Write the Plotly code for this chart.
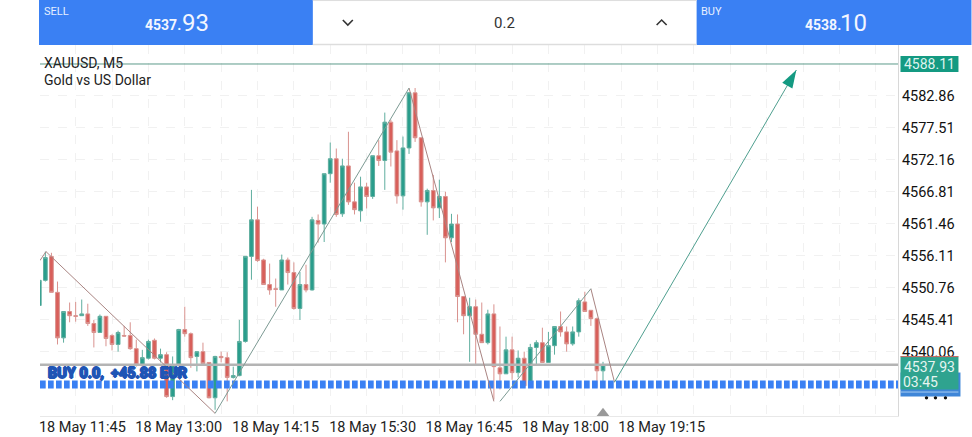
import plotly.graph_objects as go

# Candle values (price) per 5-minute bar
opens = [4547.8,4552.0,4556.0,4550.0,4542.4,4546.8,4546.1,4546.1,4546.4,4544.8,4543.3,4546.0,4542.8,4541.3,4542.8,4542.8,4540.6,4537.8,4539.0,4542.0,4539.0,4539.6,4532.6,4537.9,4543.8,4543.1,4539.3,4540.1,4538.3,4532.4,4539.3,4539.1,4535.8,4536.1,4541.8,4556.0,4562.1,4555.4,4551.3,4550.6,4550.4,4555.4,4553.3,4547.3,4551.3,4550.4,4562.0,4561.4,4569.8,4572.3,4563.1,4571.1,4565.1,4563.6,4567.6,4566.0,4572.8,4572.0,4578.4,4573.6,4566.1,4574.1,4583.3,4575.8,4565.1,4567.0,4564.1,4566.0,4559.1,4561.4,4549.3,4546.1,4547.6,4543.0,4541.6,4546.4,4537.4,4536.4,4540.4,4536.6,4539.0,4534.4,4540.8,4541.6,4538.3,4541.1,4544.3,4543.4,4541.4,4543.4,4548.4,4547.0,4545.6,4536.9]
highs = [4552.0,4556.8,4556.6,4551.8,4546.8,4548.3,4548.4,4548.8,4548.1,4545.4,4546.3,4546.0,4543.0,4543.6,4544.4,4545.0,4542.1,4540.4,4542.1,4542.3,4540.6,4540.0,4539.3,4543.9,4547.6,4543.3,4540.1,4541.6,4538.3,4539.4,4540.1,4540.0,4537.6,4545.4,4556.0,4567.1,4564.3,4555.6,4554.8,4552.3,4556.3,4555.8,4555.0,4553.4,4554.6,4562.6,4563.0,4569.8,4575.0,4574.0,4572.3,4576.8,4568.3,4569.3,4568.3,4572.8,4575.4,4580.0,4578.8,4575.4,4576.0,4583.4,4584.1,4575.8,4567.3,4569.6,4568.8,4566.8,4563.1,4563.0,4549.4,4549.1,4548.8,4548.3,4547.1,4548.0,4544.3,4542.6,4542.6,4540.3,4540.1,4541.4,4542.0,4544.1,4543.4,4544.3,4546.8,4544.3,4544.3,4549.0,4550.1,4547.0,4545.8,4538.4]
lows = [4547.8,4551.8,4550.0,4541.3,4541.6,4545.0,4545.1,4546.1,4544.4,4540.8,4543.3,4541.0,4540.3,4540.1,4542.6,4540.4,4537.6,4537.8,4538.8,4538.8,4538.3,4532.4,4532.0,4537.8,4542.6,4537.4,4536.8,4537.9,4532.3,4530.4,4538.3,4531.8,4535.6,4536.0,4541.6,4552.1,4555.1,4551.3,4549.6,4547.6,4550.4,4551.3,4547.1,4545.4,4550.0,4550.3,4558.3,4558.4,4568.3,4562.6,4562.6,4564.6,4563.0,4561.8,4564.0,4565.6,4571.1,4567.1,4571.0,4564.8,4563.8,4573.1,4575.1,4564.3,4559.6,4562.0,4562.4,4555.0,4558.4,4545.0,4543.0,4538.4,4537.9,4541.6,4541.3,4532.1,4533.8,4536.4,4535.4,4535.8,4534.3,4534.3,4537.9,4538.3,4538.3,4539.6,4542.6,4540.1,4541.1,4542.6,4546.8,4544.4,4534.1,4534.1]
closes = [4552.0,4555.8,4550.0,4542.4,4546.8,4546.1,4546.0,4546.4,4544.8,4543.3,4546.0,4542.3,4541.3,4543.3,4542.7,4540.6,4537.9,4539.1,4541.8,4539.0,4539.6,4532.6,4537.9,4543.8,4543.1,4539.1,4540.1,4538.1,4532.4,4539.3,4539.1,4535.8,4536.1,4541.8,4556.0,4562.1,4555.3,4551.3,4550.4,4550.5,4555.4,4553.3,4547.3,4551.3,4550.4,4562.1,4561.4,4569.8,4572.3,4563.0,4571.1,4565.1,4563.8,4567.6,4566.0,4572.8,4572.0,4578.4,4573.4,4566.1,4574.1,4583.3,4575.8,4565.1,4567.0,4564.1,4566.0,4559.1,4561.4,4549.3,4546.1,4547.6,4543.0,4541.6,4546.4,4537.6,4536.4,4540.4,4536.6,4539.0,4534.4,4540.8,4541.6,4538.3,4541.1,4544.3,4543.4,4541.4,4543.4,4548.6,4546.8,4545.6,4536.9,4537.9]
bars = list(range(len(opens)))

# Zigzag and forecast lines (bar number, price)
zz_down_x = [0.1, 1.1, None, 1.1, 29, None, 61, 75, None, 91, 94.9]
zz_down_y = [4555.3, 4556.8, None, 4556.8, 4529.8, None, 4584.1, 4531.8, None, 4550.6, 4535.0]
zz_up_x = [29, 61, None, 76, 91]
zz_up_y = [4529.8, 4584.1, None, 4531.8, 4550.6]
arrow_x = [94.9, 124.9]
arrow_y = [4535.0, 4587.1]

# Price levels
target_price = 4588.11
bid_price = 4537.93
order_price = 4534.6
marker_bar = 93
marker_price = 4529.8
order_text = "BUY 0.0,  +45.88 EUR"

# Axis labels
y_ticks = [4582.86, 4577.51, 4572.16, 4566.81, 4561.46, 4556.11, 4550.76, 4545.41, 4540.06]
x_labels = ["18 May 11:45", "18 May 13:00", "18 May 14:15", "18 May 15:30", "18 May 16:45", "18 May 18:00", "18 May 19:15"]
x_label_bars = [7.1, 23.0, 39.0, 55.0, 70.9, 86.8, 102.7]
x_grid_bars = [k * 6 for k in range(24)]

GREEN = "#2a9d8c"
RED = "#d85f5a"
BLUE = "#3a80f3"
TEAL_TAG = "#149a82"
FONT = "Roboto"

L, R, T, B = 40.0, 898.5, 45.0, 416.5


def px(x):
    return (x - L) / (R - L)


def py(y):
    return (B - y) / (B - T)


fig = go.Figure()

# Order row under the candles
fig.add_trace(go.Scatter(x=[0.115, 141.67], y=[order_price] * 2, mode="lines",
                         line=dict(color=BLUE, width=8, dash="5.7px,2.3px"),
                         hoverinfo="skip", showlegend=False))
fig.add_trace(go.Scatter(x=[0.115, 141.67], y=[bid_price] * 2, mode="lines",
                         line=dict(color="#b4b4b4", width=2.5),
                         hoverinfo="skip", showlegend=False))
fig.add_trace(go.Scatter(x=[0.115, 141.67], y=[target_price] * 2, mode="lines",
                         line=dict(color="#5d9a8b", width=1),
                         hoverinfo="skip", showlegend=False))

fig.add_trace(go.Candlestick(
    x=bars, open=opens, high=highs, low=lows, close=closes,
    increasing=dict(line=dict(color="#5fae9f", width=1), fillcolor=GREEN),
    decreasing=dict(line=dict(color="#d9928e", width=1), fillcolor=RED),
    whiskerwidth=0, showlegend=False,
))

fig.add_trace(go.Scatter(x=zz_down_x, y=zz_down_y, mode="lines",
                         line=dict(color="#a98482", width=1), showlegend=False))
fig.add_trace(go.Scatter(x=zz_up_x, y=zz_up_y, mode="lines",
                         line=dict(color="#7c9a93", width=1), showlegend=False))
fig.add_trace(go.Scatter(x=arrow_x, y=arrow_y, mode="lines",
                         line=dict(color="#4f9f8f", width=1), showlegend=False))
fig.add_trace(go.Scatter(x=arrow_x[1:], y=arrow_y[1:], mode="markers",
                         marker=dict(symbol="arrow", size=19, angle=30, color=TEAL_TAG,
                                     line=dict(width=0)),
                         showlegend=False))
fig.add_trace(go.Scatter(x=[marker_bar], y=[marker_price], mode="markers", cliponaxis=False,
                         marker=dict(symbol="triangle-up", size=11, color="#999999"),
                         showlegend=False))
# Invisible trace that keeps the time-label axis alive
fig.add_trace(go.Scatter(x=[bars[0]], y=[opens[0]], xaxis="x2", mode="markers",
                         marker=dict(opacity=0), showlegend=False, hoverinfo="skip"))

shapes = [
    dict(type="rect", xref="paper", yref="paper", x0=px(39), x1=px(313), y0=py(45), y1=py(0),
         fillcolor=BLUE, line_width=0, layer="above"),
    dict(type="rect", xref="paper", yref="paper", x0=px(697), x1=px(972), y0=py(45), y1=py(0),
         fillcolor=BLUE, line_width=0, layer="above"),
    dict(type="line", xref="paper", yref="paper", x0=px(313), x1=px(697), y0=py(44.5), y1=py(44.5),
         line=dict(color="#dddddd", width=1.5)),
    dict(type="line", xref="paper", yref="paper", x0=px(313), x1=px(697), y0=py(0.5), y1=py(0.5),
         line=dict(color="#dddddd", width=1)),
    dict(type="path", xref="paper", yref="paper",
         path=f"M {px(343)} {py(20)} L {px(348)} {py(25)} L {px(353)} {py(20)}",
         line=dict(color="#333333", width=1.6)),
    dict(type="path", xref="paper", yref="paper",
         path=f"M {px(657)} {py(25)} L {px(662)} {py(20)} L {px(667)} {py(25)}",
         line=dict(color="#333333", width=1.6)),
    # target tag
    dict(type="rect", xref="paper", yref="paper", x0=px(901), x1=px(959), y0=py(72), y1=py(56),
         fillcolor=TEAL_TAG, line_width=0, layer="above"),
    # bid tag
    dict(type="rect", xref="paper", yref="paper", x0=px(901), x1=px(961), y0=py(397), y1=py(373),
         fillcolor="#3f86d8", line_width=0, layer="above"),
    dict(type="rect", xref="paper", yref="paper", x0=px(901), x1=px(959), y0=py(390), y1=py(357),
         fillcolor="#2fa38f", line_width=0, layer="above"),
    dict(type="line", xref="paper", yref="paper", x0=px(901), x1=px(959), y0=py(357), y1=py(357),
         line=dict(color="#c9675f", width=1), layer="above"),
    dict(type="line", xref="paper", yref="paper", x0=px(901), x1=px(959), y0=py(392.5), y1=py(392.5),
         line=dict(color="#a9cdf2", width=1), layer="above"),
]
for dot_x in (927, 936, 946):
    shapes.append(dict(type="circle", xref="paper", yref="paper",
                       x0=px(dot_x - 1.7), x1=px(dot_x + 1.7), y0=py(400), y1=py(396.6),
                       fillcolor="#111111", line_width=0, layer="above"))


def note(x, y, text, size, color="#222222", anchor="left", shadow=None):
    font = dict(family=FONT, size=size, color=color)
    if shadow:
        font["shadow"] = shadow
    return dict(xref="paper", yref="paper", x=px(x), y=py(y), text=text, showarrow=False,
                xanchor=anchor, yanchor="middle", font=font)


annotations = [
    note(42, 11, "SELL", 11, "#e6efff"),
    note(143, 25, "<b>4537.</b>", 14, "#f2f6ff"),
    note(180, 22.5, "93", 24, "#f2f6ff"),
    note(699, 11, "BUY", 11, "#e6efff"),
    note(803, 25, "<b>4538.</b>", 14, "#f2f6ff"),
    note(838, 22.5, "10", 24, "#f2f6ff"),
    note(505, 23, "0.2", 15, "#333333", "center"),
    note(42, 63.5, "XAUUSD, M5", 14),
    note(42, 80, "Gold vs US Dollar", 14),
    note(930, 64.5, "4588.11", 14, "#dff3ee", "center"),
    note(930, 367, "4537.93", 14, "#e6f5f1", "center"),
    note(902, 382, "03:45", 14, "#e6f5f1"),
    note(46, 374, f"<b>{order_text}</b>", 14.5, "#1f55b5",
         shadow="1px 0 0 #1f55b5, -1px 0 0 #1f55b5, 0 1px 0 #1f55b5, 0 -1px 0 #1f55b5"),
]

fig.update_layout(
    width=972, height=437,
    autosize=False,
    margin=dict(l=L, r=972 - R, t=T, b=437 - B, pad=0, autoexpand=False),
    paper_bgcolor="white", plot_bgcolor="white",
    showlegend=False, hovermode=False,
    boxgap=0.12,
    font=dict(family=FONT, color="#222222"),
    xaxis=dict(range=[0.115, 141.67], tickmode="array", tickvals=x_grid_bars, showticklabels=False,
               showgrid=True, gridcolor="#f1f1f1", griddash="dash", gridwidth=1, zeroline=False,
               showline=True, linecolor="#e8e8e8", linewidth=1, ticks="", automargin=False,
               rangeslider=dict(visible=False), mirror=False),
    xaxis2=dict(range=[0.115, 141.67], overlaying="x", side="bottom", anchor="y", automargin=False,
                tickmode="array", tickvals=x_label_bars, ticktext=x_labels, showgrid=False,
                zeroline=False, ticks="", tickangle=0, tickfont=dict(family=FONT, size=14.5, color="#222222")),
    yaxis=dict(range=[4529.36, 4591.28], side="right", tickmode="array", tickvals=y_ticks, automargin=False,
               ticktext=[f"{v:.2f}" for v in y_ticks], showgrid=True, gridcolor="#f1f1f1",
               griddash="dash", zeroline=False, showline=True, linecolor="#d8d8d8", linewidth=1,
               ticks="", tickfont=dict(family=FONT, size=14.5, color="#111111")),
    shapes=shapes, annotations=annotations,
)

fig.write_html("out.html", config={"displayModeBar": False},
               post_script="document.body.style.margin='0';document.body.style.overflow='hidden';")
